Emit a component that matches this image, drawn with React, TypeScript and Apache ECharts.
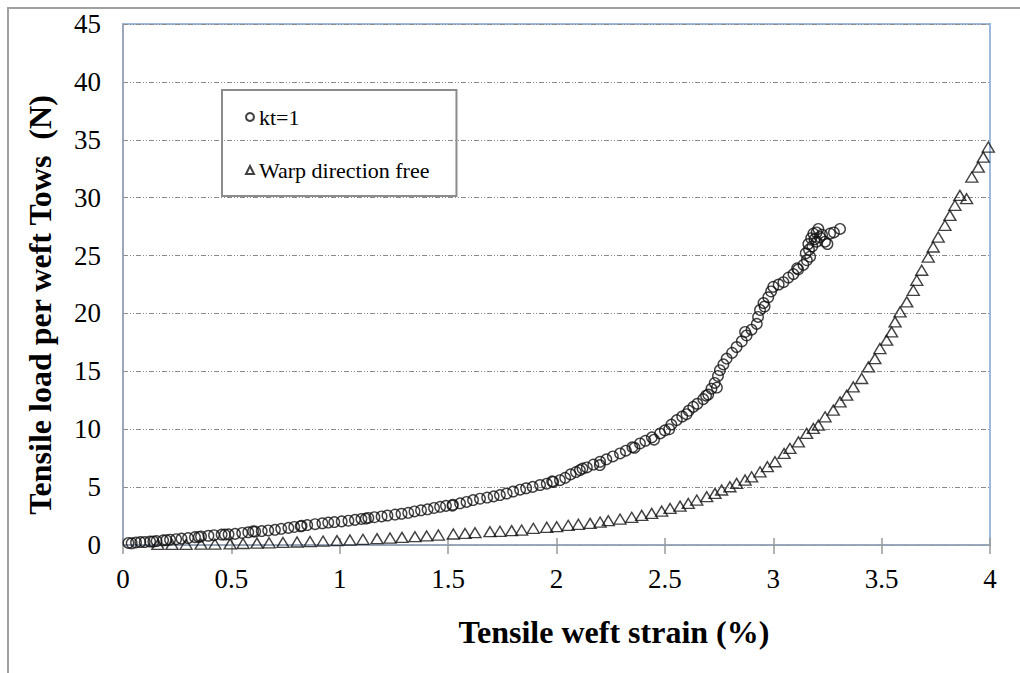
import React, { useEffect, useRef } from "react";
import * as echarts from "echarts";

// kt=1 series (strain %, load N)
const ktStrain = [
  0.025, 0.06, 0.10, 0.125, 0.155, 0.185, 0.217, 0.245, 0.27, 0.30, 0.332, 0.36, 0.394, 0.42, 0.455, 0.487, 0.517, 0.55, 0.578, 0.61,
  0.64, 0.67, 0.701, 0.73, 0.763, 0.79, 0.824, 0.85, 0.886, 0.92, 0.947, 0.975, 1.009, 1.04, 1.07, 1.10, 1.132, 1.16, 1.193, 1.22,
  1.255, 1.285, 1.316,
  1.345, 1.375, 1.405, 1.435, 1.463, 1.49, 1.522, 1.555, 1.585, 1.615, 1.647, 1.68, 1.71, 1.739, 1.77, 1.80, 1.832, 1.86, 1.89, 1.924,
  1.955, 1.985, 2.016, 2.04, 2.065, 2.09, 2.108, 2.14, 2.17, 2.201, 2.23, 2.26, 2.293, 2.32, 2.35, 2.385, 2.41, 2.44, 2.478, 2.50,
  2.53, 2.555, 2.58, 2.61, 2.631,
  2.65, 2.677, 2.70, 2.715, 2.73, 2.745, 2.754, 2.77, 2.785, 2.81, 2.831, 2.855, 2.877, 2.90, 2.924, 2.93, 2.939, 2.955, 2.977, 2.99,
  3.0, 3.025, 3.047, 3.07, 3.093, 3.115, 3.139, 3.155, 3.17, 3.15, 3.165, 3.18, 3.162, 3.19, 3.175, 3.185, 3.2, 3.208, 3.215, 3.225,
  3.239, 3.25, 3.262, 3.28, 3.308,
  0.04, 0.08, 0.14, 0.2, 0.35, 0.47, 0.6, 0.82, 1.12, 1.52, 1.98, 2.12, 2.2, 2.36, 2.45, 2.52, 2.6, 2.69, 2.74, 2.87, 2.96, 3.11, 3.2,
];
const ktLoad = [
  0.18, 0.22, 0.26, 0.3, 0.34, 0.4, 0.46, 0.5, 0.55, 0.6, 0.68, 0.74, 0.8, 0.85, 0.9, 0.92, 0.96, 1.04, 1.1, 1.16,
  1.2, 1.26, 1.31, 1.4, 1.48, 1.56, 1.66, 1.72, 1.8, 1.88, 1.94, 1.98, 2.04, 2.1, 2.17, 2.25, 2.34, 2.4, 2.47, 2.55,
  2.63, 2.7, 2.78,
  2.9, 3.0, 3.08, 3.2, 3.3, 3.38, 3.48, 3.6, 3.72, 3.88, 4.0, 4.1, 4.2, 4.31, 4.45, 4.62, 4.78, 4.9, 5.02, 5.18,
  5.3, 5.45, 5.6, 5.8, 6.1, 6.3, 6.47, 6.7, 6.95, 7.19, 7.4, 7.65, 7.91, 8.15, 8.45, 8.77, 9.0, 9.3, 9.64, 9.9,
  10.4, 10.79, 11.1, 11.6, 11.93,
  12.2, 12.6, 13.0, 13.5, 14.0, 14.6, 15.1, 15.6, 16.1, 16.6, 17.1, 17.6, 18.1, 18.6, 19.1, 19.7, 20.3, 20.9, 21.4, 21.9,
  22.3, 22.5, 22.7, 23.1, 23.4, 23.8, 24.2, 24.6, 24.9, 25.2, 25.5, 25.8, 26.0, 26.4, 26.5, 26.9, 27.0, 27.3, 26.6, 26.8,
  26.2, 26.0, 26.9, 27.0, 27.3,
  0.15, 0.25, 0.3, 0.42, 0.7, 0.9, 1.18, 1.62, 2.28, 3.4, 5.5, 6.6, 6.9, 8.4, 9.1, 10.0, 11.3, 12.9, 13.6, 18.4, 20.6, 23.9, 26.2,
];

// Warp direction free series
const warpStrain = [
  0.161, 0.226, 0.291, 0.36, 0.424, 0.494, 0.554, 0.618, 0.674, 0.738, 0.803, 0.863, 0.923, 0.987, 1.047, 1.107, 1.172, 1.232, 1.287,
  1.347, 1.401, 1.455, 1.524, 1.578, 1.624, 1.693, 1.739, 1.793, 1.839, 1.893, 1.955, 2.001, 2.054, 2.101, 2.155, 2.201, 2.239, 2.293,
  2.347, 2.393, 2.439, 2.485, 2.524, 2.57, 2.608, 2.647, 2.693, 2.731, 2.762, 2.8, 2.831, 2.87, 2.9, 2.939, 2.973, 3.008, 3.05, 3.077,
  3.116, 3.154, 3.185, 3.208, 3.239, 3.277, 3.308, 3.339, 3.369, 3.408, 3.439, 3.469, 3.492, 3.523, 3.546, 3.562, 3.585, 3.616, 3.646,
  3.662, 3.685, 3.715, 3.738, 3.761, 3.792, 3.815, 3.838, 3.861, 3.892, 3.916, 3.946, 3.969, 3.992,
];
const warpLoad = [
  0.05, 0.05, 0.06, 0.07, 0.08, 0.1, 0.13, 0.16, 0.19, 0.22, 0.26, 0.3, 0.34, 0.38, 0.43, 0.49, 0.55, 0.6, 0.66,
  0.72, 0.78, 0.86, 0.95, 1.0, 1.06, 1.15, 1.18, 1.24, 1.29, 1.44, 1.53, 1.58, 1.7, 1.79, 1.87, 1.98, 2.1, 2.24,
  2.39, 2.56, 2.73, 2.93, 3.16, 3.36, 3.59, 3.88, 4.17, 4.46, 4.75, 5.03, 5.32, 5.61, 5.89, 6.32, 6.76, 7.19, 7.91, 8.34,
  8.91, 9.64, 10.07, 10.35, 11.07, 11.65, 12.36, 12.94, 13.66, 14.38, 15.38, 16.1, 16.97, 17.69, 18.4, 19.27, 20.13, 21.0, 22.0,
  22.86, 23.73, 24.87, 25.74, 26.6, 27.61, 28.47, 29.34, 30.2, 29.91, 31.78, 32.64, 33.5, 34.37,
];

const seriesNames = ["kt=1", "Warp direction free"];
const xTitle = "Tensile weft strain (%)";
const yTitle = "Tensile load per weft Tows  (N)";

const SERIF = "Liberation Serif, Times New Roman, serif";

export default function App() {
  const ref = useRef<HTMLDivElement>(null);
  useEffect(() => {
    if (!ref.current) return;
    const chart = echarts.init(ref.current, undefined, { renderer: "svg" });
    const ktData = ktStrain.map((x, i) => [x, ktLoad[i]]);
    const warpData = warpStrain.map((x, i) => [x, warpLoad[i]]);
    const gridLine = { color: "#8a8a8a", width: 1, type: [5, 2, 1, 2, 1, 2] as number[] };
    chart.setOption({
      animation: false,
      backgroundColor: "#ffffff",
      textStyle: { fontFamily: SERIF },
      grid: {
        left: 123,
        right: 30,
        top: 24,
        bottom: 128,
        show: true,
        borderColor: "#9db9de",
        borderWidth: 2,
        backgroundColor: "transparent",
      },
      legend: {
        orient: "vertical",
        left: 222,
        top: 90,
        padding: [16, 27, 15, 23],
        itemGap: 31,
        itemWidth: 8,
        itemHeight: 8,
        borderColor: "#8c8c8c",
        borderWidth: 2,
        data: seriesNames,
        textStyle: {
          fontFamily: SERIF,
          fontSize: 22,
          color: "#000",
        },
      },
      xAxis: [
        {
          type: "value",
          min: 0,
          max: 4,
          interval: 0.5,
          axisLine: { show: true, lineStyle: { color: "#98a3b3", width: 1.5 } },
          axisTick: { show: true, inside: false, length: 9, lineStyle: { color: "#9a9a9a", width: 1.5 } },
          axisLabel: { fontFamily: SERIF, fontSize: 27, color: "#000", margin: 20 },
          splitLine: { show: false },
        },
        {
          type: "value",
          min: 0,
          max: 4,
          interval: 0.5,
          position: "bottom",
          axisLine: { show: false },
          axisTick: { show: true, inside: true, length: 7, lineStyle: { color: "#9a9a9a", width: 1.5 } },
          axisLabel: { show: false },
          splitLine: { show: false },
        },
      ],
      yAxis: {
        type: "value",
        min: 0,
        max: 45,
        interval: 5,
        axisLine: { show: true, lineStyle: { color: "#98a3b3", width: 1.5 } },
        axisTick: { show: false },
        axisLabel: { fontFamily: SERIF, fontSize: 27, color: "#000", margin: 22 },
        splitLine: { show: true, lineStyle: gridLine },
      },
      series: [
        {
          name: seriesNames[0],
          type: "scatter",
          data: ktData,
          symbol: "circle",
          symbolSize: 10.5,
          itemStyle: { color: "rgba(255,255,255,0)", borderColor: "#111", borderWidth: 1.4 },
        },
        {
          name: seriesNames[1],
          type: "scatter",
          data: warpData,
          symbol: "triangle",
          symbolSize: [12, 10],
          itemStyle: { color: "rgba(255,255,255,0)", borderColor: "#111", borderWidth: 1.4 },
        },
      ],
      graphic: [
        {
          type: "rect",
          shape: { x: 8, y: 8, width: 1030, height: 700 },
          style: { fill: "none", stroke: "#a0a0a0", lineWidth: 2 },
          silent: true,
        },
        {
          type: "text",
          x: 40,
          y: 305,
          rotation: Math.PI / 2,
          style: {
            text: yTitle,
            fontFamily: SERIF,
            fontSize: 32,
            fontWeight: "bold",
            fill: "#000",
            align: "center",
            verticalAlign: "middle",
          },
        },
        {
          type: "text",
          x: 614,
          y: 632,
          style: {
            text: xTitle,
            fontFamily: SERIF,
            fontSize: 32,
            fontWeight: "bold",
            fill: "#000",
            align: "center",
            verticalAlign: "middle",
          },
        },
      ],
    });
    return () => chart.dispose();
  }, []);
  return (
    <div
      ref={ref}
      style={{ position: "fixed", left: 0, top: 0, width: 1020, height: 673 }}
    />
  );
}
